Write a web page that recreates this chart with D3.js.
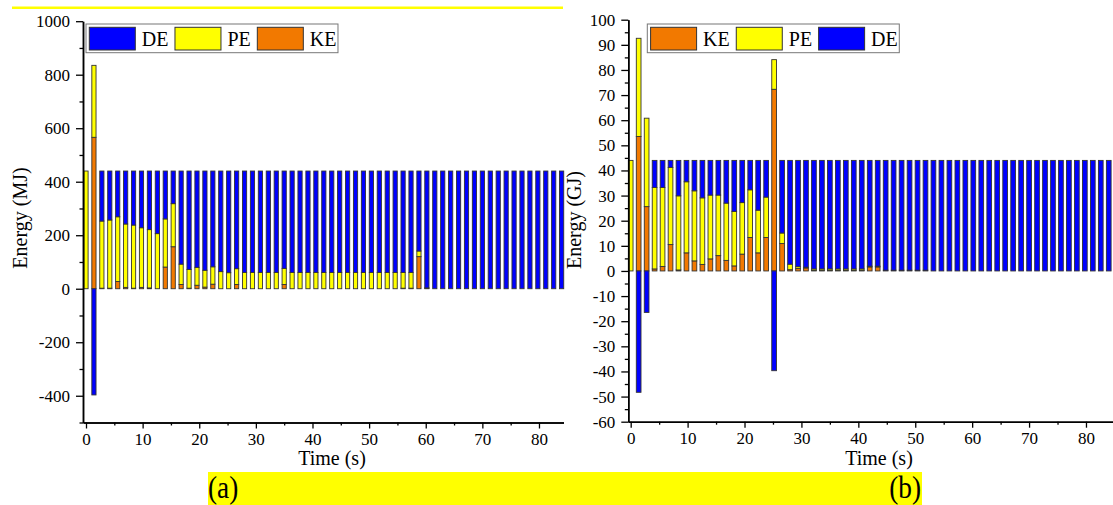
<!DOCTYPE html>
<html>
<head>
<meta charset="utf-8">
<script src="https://cdn.jsdelivr.net/npm/d3@7"></script>
<style>
    body { margin: 0; background: #fff; }
    svg { display: block; font-family: "Liberation Serif", "Times New Roman", serif; }
</style>
</head>
<body>
<div id="chart"></div>
<script>
// time of each bar (s), same for both panels
var timeS = [0, 1.4, 2.8, 4.2, 5.6, 7, 8.4, 9.8, 11.2, 12.6, 14, 15.4, 16.8, 18.2, 19.6, 21, 22.4, 23.8, 25.2, 26.6,
    28, 29.4, 30.8, 32.2, 33.6, 35, 36.4, 37.8, 39.2, 40.6, 42, 43.4, 44.8, 46.2, 47.6, 49, 50.4, 51.8, 53.2, 54.6,
    56, 57.4, 58.8, 60.2, 61.6, 63, 64.4, 65.8, 67.2, 68.6, 70, 71.4, 72.8, 74.2, 75.6, 77, 78.4, 79.8, 81.2, 82.6, 84];

// panel (a), MJ
var keA = [0, 566, 2, 2, 27, 5, 2, 5, 3, 0, 81, 157, 16, 2, 13, 6, 17, 0, 0, 16,
    0, 0, 0, 0, 0, 16, 0, 0, 0, 0, 0, 0, 0, 0, 0, 0, 0, 0, 0, 0,
    2, 2, 120, 2, 0, 0, 0, 0, 0, 0, 0, 0, 0, 0, 0, 0, 0, 0, 0, 0, 0];
var peA = [440, 269, 251, 255, 242, 237, 236, 223, 218, 206, 180, 161, 76, 70, 67, 63, 65, 64, 60, 59,
    61, 61, 61, 61, 61, 60, 61, 61, 61, 61, 61, 61, 61, 61, 61, 61, 61, 61, 61, 61,
    59, 59, 21, 1, 0, 0, 0, 0, 0, 0, 0, 0, 0, 0, 0, 0, 0, 0, 0, 0, 0];
var deA = [0, -397, 187, 183, 171, 198, 202, 212, 219, 234, 179, 122, 348, 368, 360, 371, 358, 376, 380, 365,
    379, 379, 379, 379, 379, 364, 379, 379, 379, 379, 379, 379, 379, 379, 379, 379, 379, 379, 379, 379,
    379, 379, 299, 437, 440, 440, 440, 440, 440, 440, 440, 440, 440, 440, 440, 440, 440, 440, 440, 440, 440];

// panel (b), GJ
var keB = [0, 53.5, 25.6, 0.8, 1.8, 10.5, 0.4, 7.2, 4, 2.6, 4.8, 6.1, 4.2, 2, 6.7, 13.3, 7.2, 13.3, 72.3, 10.9,
    0.5, 1, 1.2, 0.2, 0.2, 0.2, 0.2, 0.2, 0.2, 0.2, 1.6, 1.6, 0.3, 0.3, 0.3, 0.3, 0.3, 0.3, 0, 0,
    0, 0, 0, 0, 0, 0, 0, 0, 0, 0, 0, 0, 0, 0, 0, 0, 0, 0, 0, 0, 0];
var peB = [44, 39.1, 35.2, 32.4, 31.4, 30.7, 29.5, 28.3, 27.9, 26.5, 25.4, 24.1, 22.8, 21.7, 20.5, 19, 17, 16.1, 11.8, 4.2,
    2.2, 0.7, 0.3, 0.6, 0.6, 0.6, 0.6, 0.6, 0.6, 0.6, 0.3, 0.3, 0, 0, 0, 0, 0, 0, 0, 0,
    0, 0, 0, 0, 0, 0, 0, 0, 0, 0, 0, 0, 0, 0, 0, 0, 0, 0, 0, 0, 0];
var deB = [0, -48.3, -16.5, 10.8, 10.8, 2.8, 14.1, 8.5, 12.1, 14.9, 13.8, 13.8, 17, 20.3, 16.8, 11.7, 19.8, 14.6, -39.7, 28.9,
    41.3, 42.3, 42.5, 43.2, 43.2, 43.2, 43.2, 43.2, 43.2, 43.2, 42.1, 42.1, 43.7, 43.7, 43.7, 43.7, 43.7, 43.7, 44, 44,
    44, 44, 44, 44, 44, 44, 44, 44, 44, 44, 44, 44, 44, 44, 44, 44, 44, 44, 44, 44, 44];

var xMajor = [0, 10, 20, 30, 40, 50, 60, 70, 80];
var xMinor = [5, 15, 25, 35, 45, 55, 65, 75];
var yMajorA = [-400, -200, 0, 200, 400, 600, 800, 1000];
var yMinorA = [-500, -300, -100, 100, 300, 500, 700, 900];
var yMajorB = [-60, -50, -40, -30, -20, -10, 0, 10, 20, 30, 40, 50, 60, 70, 80, 90, 100];
var yMinorB = [-55, -45, -35, -25, -15, -5, 5, 15, 25, 35, 45, 55, 65, 75, 85, 95];

var color = { KE: "#f27900", PE: "#ffff00", DE: "#0000ff" };

var svg = d3.select("#chart").append("svg")
    .attr("width", 1113)
    .attr("height", 505);

function styleAxis(g) {
    g.select(".domain").attr("stroke", "#000").attr("stroke-width", 1.5);
    g.selectAll(".tick line").attr("stroke", "#000").attr("stroke-width", 1.3);
    g.selectAll(".tick text").attr("fill", "#000")
        .style("font-family", "'Liberation Serif', serif").style("font-size", "17px");
}

function drawPanel(opt) {
    var x = d3.scaleLinear().domain(opt.xDomain).range(opt.xRange);
    var y = d3.scaleLinear().domain(opt.yDomain).range(opt.yRange);

    var rows = timeS.map((t, i) => ({ t: t, KE: opt.ke[i], PE: opt.pe[i], DE: opt.de[i] }));
    var series = d3.stack().keys(["KE", "PE", "DE"]).offset(d3.stackOffsetDiverging)(rows);

    series.forEach(s => {
        svg.append("g").selectAll("rect")
            .data(s.filter(d => d.data[s.key] !== 0))
            .enter()
            .append("rect")
            .attr("x", d => x(d.data.t) - opt.barW / 2)
            .attr("y", d => y(Math.max(d[0], d[1])))
            .attr("width", opt.barW)
            .attr("height", d => Math.abs(y(d[0]) - y(d[1])))
            .attr("fill", color[s.key])
            .attr("stroke", "#333")
            .attr("stroke-width", 0.9);
    });

    var y0 = opt.yRange[0], x0 = opt.xRange[0];

    // axes (major with labels, minor short ticks)
    svg.append("g").attr("transform", `translate(0,${y0})`)
        .call(d3.axisBottom(x).tickValues(xMinor).tickFormat("").tickSize(3).tickSizeOuter(0))
        .call(styleAxis);
    svg.append("g").attr("transform", `translate(0,${y0})`)
        .call(d3.axisBottom(x).tickValues(xMajor).tickFormat(d => String(d)).tickSize(6).tickPadding(4.5).tickSizeOuter(0))
        .call(styleAxis);
    svg.append("g").attr("transform", `translate(${x0},0)`)
        .call(d3.axisLeft(y).tickValues(opt.yMinor).tickFormat("").tickSize(3.5).tickSizeOuter(0))
        .call(styleAxis);
    svg.append("g").attr("transform", `translate(${x0},0)`)
        .call(d3.axisLeft(y).tickValues(opt.yMajor).tickFormat(d => String(d)).tickSize(7).tickPadding(6).tickSizeOuter(0))
        .call(styleAxis);

    svg.append("text")
        .attr("x", opt.xTitleX).attr("y", 465)
        .attr("text-anchor", "middle")
        .style("font-size", "20px")
        .text("Time (s)");
    svg.append("text")
        .attr("transform", `translate(${opt.yTitleX},${opt.yTitleY}) rotate(-90)`)
        .attr("text-anchor", "middle")
        .style("font-size", "20px")
        .text(opt.yTitle);

    // legend
    var lg = svg.append("g");
    var box = lg.append("rect")
        .attr("x", opt.legendX).attr("y", 24)
        .attr("height", 28.7)
        .attr("fill", "#fff")
        .attr("stroke", "#777")
        .attr("stroke-width", 1);
    var cx = opt.legendX + 3.3;
    opt.legendKeys.forEach(k => {
        lg.append("rect")
            .attr("x", cx).attr("y", 27.3)
            .attr("width", 46).attr("height", 22.7)
            .attr("fill", color[k])
            .attr("stroke", "#333")
            .attr("stroke-width", 1);
        var t = lg.append("text")
            .attr("x", cx + 52.5).attr("y", 46)
            .style("font-size", "20px")
            .text(k);
        cx = cx + 52.5 + t.node().getComputedTextLength() + 6.5;
    });
    box.attr("width", cx - 6.5 + 1.5 - opt.legendX);
}

// thin yellow line on top of panel (a)
svg.append("rect")
    .attr("x", 12).attr("y", 6.5)
    .attr("width", 551).attr("height", 2.5)
    .attr("fill", "#ffff00");

drawPanel({
    ke: keA, pe: peA, de: deA,
    xDomain: [-0.53, 84.33], xRange: [83, 563.5],
    yDomain: [-500, 1000], yRange: [422.5, 21.2],
    yMajor: yMajorA, yMinor: yMinorA,
    barW: 4.2,
    xTitleX: 332, yTitleX: 27, yTitleY: 218,
    yTitle: "Energy (MJ)",
    legendX: 86, legendKeys: ["DE", "PE", "KE"]
});

drawPanel({
    ke: keB, pe: peB, de: deB,
    xDomain: [-0.42, 84.66], xRange: [628.3, 1112.5],
    yDomain: [-60, 100], yRange: [421.7, 19.7],
    yMajor: yMajorB, yMinor: yMinorB,
    barW: 4.7,
    xTitleX: 879, yTitleX: 581, yTitleY: 220,
    yTitle: "Energy (GJ)",
    legendX: 647.3, legendKeys: ["KE", "PE", "DE"]
});

// yellow caption band with panel labels
svg.append("rect")
    .attr("x", 208).attr("y", 472)
    .attr("width", 714).attr("height", 33)
    .attr("fill", "#ffff00");
svg.append("text")
    .attr("transform", "translate(208,498) scale(0.88,1)")
    .style("font-size", "31px")
    .text("(a)");
svg.append("text")
    .attr("transform", "translate(921,498) scale(0.88,1)")
    .attr("text-anchor", "end")
    .style("font-size", "31px")
    .text("(b)");
</script>
</body>
</html>
